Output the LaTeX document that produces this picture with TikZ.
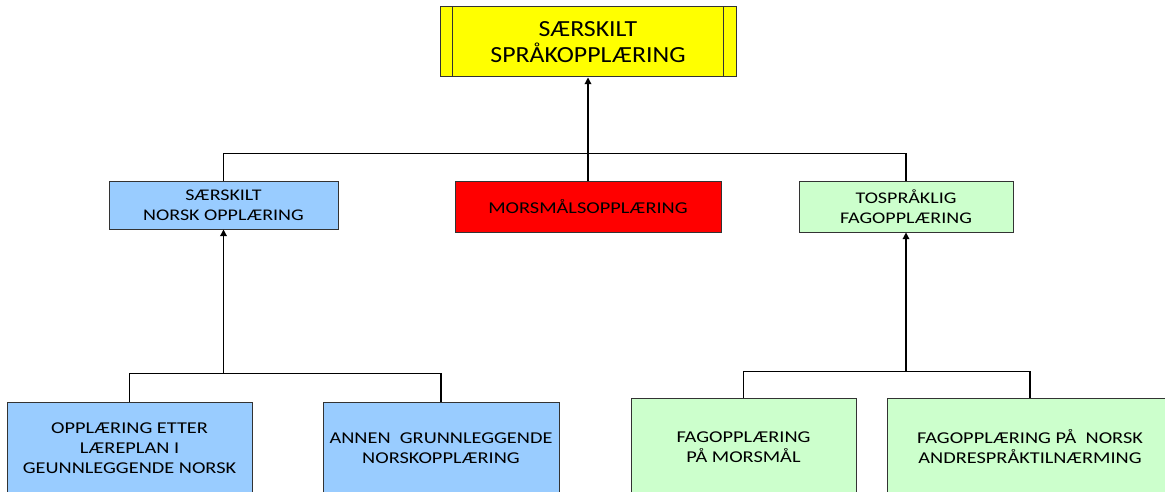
\documentclass[tikz,border=0pt]{standalone}
\usepackage{fontspec}
\setmainfont{Carlito}[FakeStretch=1.23]
\newfontfamily\toppfont{Carlito}[FakeStretch=1.12]
\usetikzlibrary{arrows.meta,calc}

\definecolor{gul}{HTML}{FFFF00}
\definecolor{blaa}{HTML}{99CCFF}
\definecolor{rod}{HTML}{FF0000}
\definecolor{gronn}{HTML}{CCFFCC}

\begin{document}
\begin{tikzpicture}[x=0.75pt,y=-0.75pt,line width=0.9pt,>={Triangle[length=5pt,width=5pt]},
  boks/.style={draw=black!80,line width=0.75pt,align=center,inner sep=0pt},
  midt/.style={boks,font=\fontsize{12.2}{15}\selectfont},
  bunn/.style={boks,font=\fontsize{12.4}{15}\selectfont}]
  \useasboundingbox (0,0) rectangle (1165,492);
  \clip (0,0) rectangle (1165,492);
  % toppboks
  \node[boks,fill=gul,minimum width=296*0.75pt,minimum height=70*0.75pt,font=\toppfont\fontsize{17.3}{20}\selectfont] (topp) at (588,42) {SÆRSKILT\\SPRÅKOPPLÆRING};
  \draw[black!80,line width=0.75pt] ($(topp.north west)+(13,0)$) -- ($(topp.south west)+(13,0)$);
  \draw[black!80,line width=0.75pt] ($(topp.north east)+(-13,0)$) -- ($(topp.south east)+(-13,0)$);
  % midtre nivaa
  \node[midt,fill=blaa,minimum width=229*0.75pt,minimum height=48*0.75pt] (norsk) at (223.5,205) {SÆRSKILT\\NORSK OPPLÆRING};
  \node[bunn,fill=rod,minimum width=266*0.75pt,minimum height=51*0.75pt] (mors) at (588,206.5) {MORSMÅLSOPPLÆRING};
  \node[midt,fill=gronn,minimum width=214*0.75pt,minimum height=51*0.75pt] (tosprak) at (906,206.5) {TOSPRÅKLIG\\FAGOPPLÆRING};
  % nederste nivaa
  \node[bunn,fill=blaa,minimum width=245*0.75pt,minimum height=92*0.75pt] (laereplan) at (129.5,448) {OPPLÆRING ETTER\\LÆREPLAN I\\GEUNNLEGGENDE NORSK};
  \node[bunn,fill=blaa,minimum width=236*0.75pt,minimum height=92*0.75pt] (annen) at (441,448) {ANNEN\ \ GRUNNLEGGENDE\\NORSKOPPLÆRING};
  \node[bunn,fill=gronn,minimum width=225*0.75pt,minimum height=98*0.75pt] (fagmors) at (743.5,447) {FAGOPPLÆRING\\PÅ MORSMÅL};
  \node[bunn,fill=gronn,minimum width=286*0.75pt,minimum height=98*0.75pt] (fagnorsk) at (1030,447) {FAGOPPLÆRING PÅ\ \ NORSK\\ANDRESPRÅKTILNÆRMING};
  % forbindelser
  \draw[->] (mors.north) -- (topp.south);
  \draw (norsk.north) -- ++(0,-27) -| (tosprak.north);
  \draw (laereplan.north) -- ++(0,-28) coordinate (hv) -| (annen.north);
  \coordinate (vsam) at (norsk.south |- hv);
  \draw[->] (vsam) -- (norsk.south);
  \draw (fagmors.north) -- ++(0,-26) coordinate (hh) -| (fagnorsk.north);
  \coordinate (hsam) at (tosprak.south |- hh);
  \draw[->] (hsam) -- (tosprak.south);
\end{tikzpicture}
\end{document}
